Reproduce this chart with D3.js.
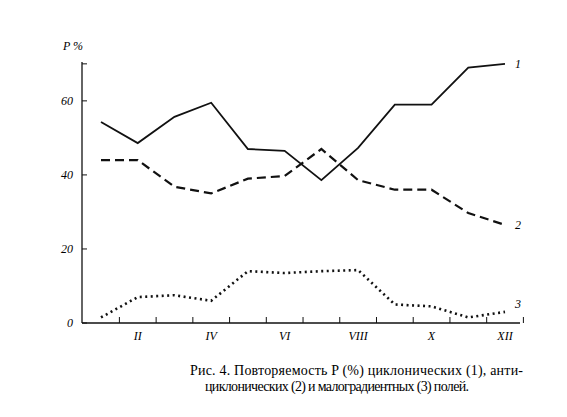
<!DOCTYPE html><html><head><meta charset="utf-8">
<script src="https://cdn.jsdelivr.net/npm/d3@7"></script>
<style>body{margin:0;background:#fff}</style></head><body><svg id="c" width="567" height="417"></svg>
<script>
const months=["I","II","III","IV","V","VI","VII","VIII","IX","X","XI","XII"];
const tickLabels=["II","IV","VI","VIII","X","XII"];
const yTicks=[0,20,40,60];
const s1=[54.3,48.6,55.7,59.5,47,46.5,38.6,47.3,59,59,69,70];
const s2=[44,44,36.8,35,39,39.7,47,38.6,36,36,29.7,26.5];
const s3=[1.5,7,7.5,6,14,13.5,14,14.3,5,4.5,1.5,3];
const svg=d3.select("#c");
const x=d3.scalePoint().domain(months).range([101,505]);
const y=d3.scaleLinear().domain([0,70.5]).range([323,62]);
const f="Liberation Serif";
svg.append("line").attr("x1",82).attr("x2",82).attr("y1",62).attr("y2",323).attr("stroke","#111").attr("stroke-width",1.3);
svg.append("line").attr("x1",82).attr("x2",520).attr("y1",323).attr("y2",323).attr("stroke","#111").attr("stroke-width",1.3);
yTicks.concat([70]).forEach(v=>svg.append("line").attr("x1",82).attr("x2",87).attr("y1",y(v)).attr("y2",y(v)).attr("stroke","#111"));
yTicks.forEach(v=>svg.append("text").attr("x",73).attr("y",y(v)+4).attr("text-anchor","end").attr("font-family",f).attr("font-style","italic").attr("font-size",12).text(v));
months.forEach(m=>svg.append("line").attr("x1",x(m)+18.4).attr("x2",x(m)+18.4).attr("y1",323).attr("y2",317).attr("stroke","#111"));
tickLabels.forEach(m=>svg.append("text").attr("x",x(m)).attr("y",340).attr("text-anchor","middle").attr("font-family",f).attr("font-style","italic").attr("font-size",12).text(m));
svg.append("text").attr("x",63).attr("y",50).attr("font-family",f).attr("font-style","italic").attr("font-size",12).text("P %");
const line=d3.line().x((d,i)=>x(months[i])).y(d=>y(d));
[[s1,null,1.8],[s2,"9,5",2.2],[s3,"2,3.5",2.6]].forEach(([s,da,w],k)=>{
 svg.append("path").attr("d",line(s)).attr("fill","none").attr("stroke","#111").attr("stroke-width",w).attr("stroke-dasharray",da);
 svg.append("text").attr("x",515).attr("y",y(s[11])+(k==2?-4:4)).attr("font-family",f).attr("font-style","italic").attr("font-size",12).text(k+1);
});
svg.append("text").attr("x",190).attr("y",375).attr("textLength",333).attr("font-family",f).attr("font-size",14).text("Рис. 4. Повторяемость P (%) циклонических (1), анти-");
svg.append("text").attr("x",205).attr("y",391).attr("textLength",264).attr("font-family",f).attr("font-size",14).text("циклонических (2) и малоградиентных (3) полей.");
</script></body></html>
